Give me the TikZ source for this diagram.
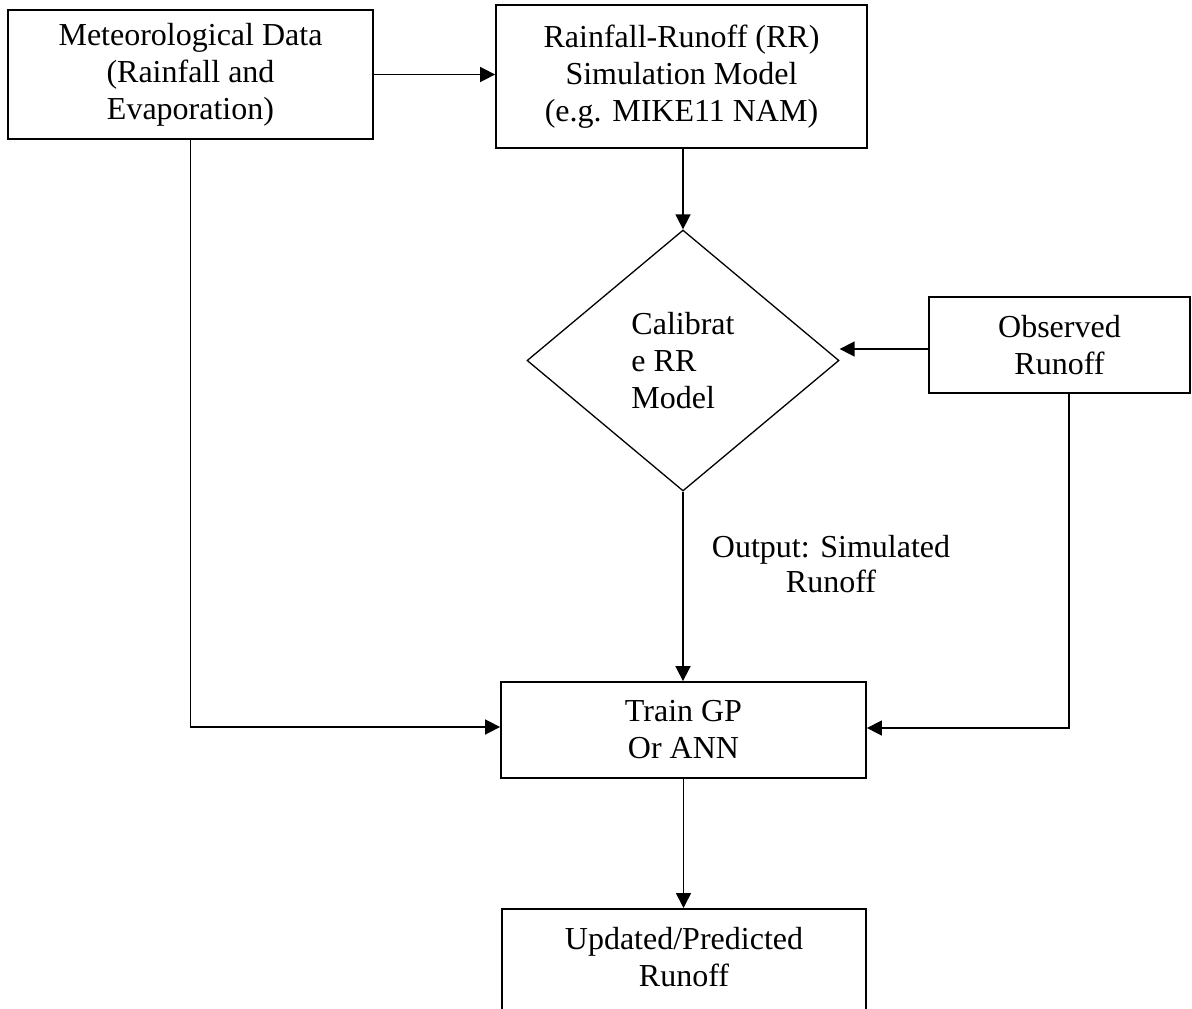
\documentclass[tikz,border=0pt]{standalone}
\usepackage{fontspec}
\setmainfont{Liberation Serif}
\usetikzlibrary{arrows.meta,shapes.geometric}
\begin{document}
\begin{tikzpicture}[x=1pt,y=-1pt,
  txt/.style={font=\fontsize{32}{37}\selectfont, align=center, inner sep=0pt},
  box/.style={draw, line width=1.8pt, rectangle, inner sep=0pt, txt},
  dia/.style={draw, line width=1.3pt, diamond, inner sep=0pt, font=\fontsize{32}{37}\selectfont, align=left},
  arr/.style={line width=1.6pt, -{Triangle[length=15pt,width=15pt]}},
  ln/.style={line width=1.6pt}]
\useasboundingbox[fill=white] (0,0) rectangle (1192,1009);
\node[box, minimum width=365pt, minimum height=129pt] (met) at (190.5,74.5) {Meteorological Data\\(Rainfall and\\Evaporation)};
\node[box, minimum width=371pt, minimum height=143pt] (rr) at (681.5,76.5) {Rainfall-Runoff (RR)\\Simulation Model\\(e.g. MIKE11 NAM)};
\node[dia, minimum width=312pt, minimum height=261pt] (cal) at (683,360.5) {Calibrat\\e RR\\Model};
\node[box, minimum width=261pt, minimum height=96pt] (obs) at (1059.5,345) {Observed\\Runoff};
\node[box, minimum width=365pt, minimum height=96pt] (train) at (683.5,730) {Train GP\\Or ANN};
\node[box, minimum width=364pt, minimum height=130pt, anchor=north] (upd) at (684,908) {};
\node[txt] (updt) at (684,957) {Updated/Predicted\\Runoff};
\node[txt, font=\fontsize{32}{35}\selectfont] (outlbl) at (831,564) {Output: Simulated\\Runoff};
\draw[arr] (met.east) -- (met.east -| rr.west);
\draw[arr] (cal.north |- rr.south) -- (cal.north);
\draw[arr] ([yshift=-4pt]obs.west) -- ([yshift=-4pt]obs.west -| cal.east);
\draw[arr] (cal.south) -- (cal.south |- train.north);
\draw[arr] (met.south) |- ([yshift=3pt]train.west);
\draw[arr] ([xshift=9.5pt]obs.south) |- ([yshift=2pt]train.east);
\draw[arr] (train.south) -- (train.south |- upd.north);
\end{tikzpicture}
\end{document}
